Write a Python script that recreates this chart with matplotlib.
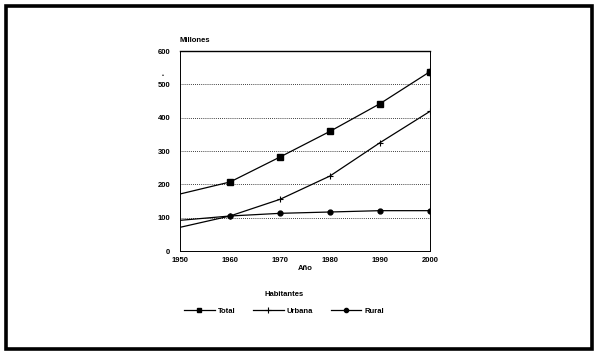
import matplotlib
matplotlib.use("Agg")
import matplotlib.pyplot as plt
from matplotlib.patches import Rectangle
from matplotlib.lines import Line2D

plt.rcParams['font.family'] = ['Liberation Sans', 'DejaVu Sans']

# Data (millones de habitantes)
years = [1950, 1960, 1970, 1980, 1990, 2000]
total = [171, 207, 282, 359, 442, 538]
urbana = [71, 105, 155, 225, 325, 419]
rural = [92, 105, 113, 117, 121, 121]
y_ticks = [0, 100, 200, 300, 400, 500, 600]
x_ticks = [1950, 1960, 1970, 1980, 1990, 2000]

W, H = 600, 353
fig = plt.figure(figsize=(W / 100, H / 100), dpi=100)

# thick outer frame
fig.patches.append(Rectangle((6 / W, 4.5 / H), 586 / W, 343 / H, transform=fig.transFigure,
                             fill=False, edgecolor='black', linewidth=2.6))

ax = fig.add_axes([180 / W, 1 - 251 / H, 250 / W, 200 / H])
mk = list(range(1, 6))
ax.plot(years, total, color='black', lw=0.9, marker='s', ms=4, markevery=mk)
ax.plot(years, urbana, color='black', lw=0.9, marker='+', ms=4, mew=0.8, markevery=mk)
ax.plot(years, rural, color='black', lw=0.9, marker='o', ms=3.5, markevery=mk)
ax.plot([2000], [total[-1]], color='black', marker='o', ms=4.5)

ax.set_xlim(1950, 2000)
ax.set_ylim(0, 600)
ax.set_xticks(x_ticks)
ax.set_yticks(y_ticks)
ax.set_xticklabels([str(x) for x in x_ticks], fontsize=5.5, fontweight='bold')
ax.set_yticklabels([str(y) for y in y_ticks], fontsize=5.5, fontweight='bold')
ax.tick_params(axis='both', length=0, pad=7)
ax.tick_params(axis='x', pad=4)
for y in y_ticks[1:-1]:
    ax.axhline(y, color='black', lw=0.6, ls=(0, (1, 1.5)), zorder=0)
for s in ax.spines.values():
    s.set_linewidth(0.7)
ax.spines['top'].set_linewidth(1.0)
ax.set_xlabel('Año', fontsize=5.5, fontweight='bold', labelpad=1)

fig.text(180 / W, 1 - 40 / H, 'Millones', fontsize=5.5, fontweight='bold', va='center')
fig.text(163 / W, 1 - 75 / H, '•', fontsize=4, ha='center', va='center')

handles = [Line2D([], [], color='black', lw=0.9, marker='s', ms=3.5),
           Line2D([], [], color='black', lw=0.9, marker='+', ms=4, mew=0.8),
           Line2D([], [], color='black', lw=0.9, marker='o', ms=3)]
leg = fig.legend(handles, ['Total', 'Urbana', 'Rural'], loc='center',
                 bbox_to_anchor=(284 / W, 1 - 303 / H), ncol=3, frameon=False,
                 title='Habitantes', prop={'size': 5.5, 'weight': 'bold'},
                 handlelength=4.0, columnspacing=2.3, handletextpad=0.4,
                 labelspacing=1.3)
leg.get_title().set_fontsize(5.5)
leg.get_title().set_fontweight('bold')

fig.savefig('out.png', dpi=100)
